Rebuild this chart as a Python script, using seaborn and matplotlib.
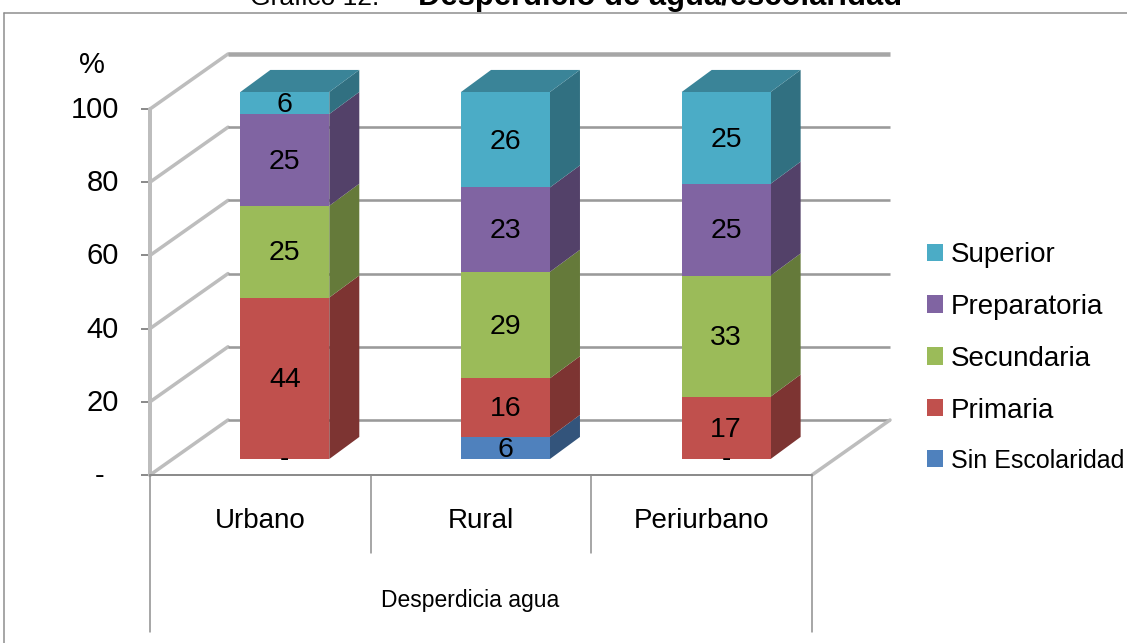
import matplotlib
matplotlib.use('Agg')
import matplotlib.pyplot as plt
import numpy as np
import pandas as pd
import seaborn as sns
from matplotlib.lines import Line2D
from matplotlib.patches import Patch, Polygon
from matplotlib.colors import to_rgb
from matplotlib.transforms import ScaledTranslation

categories = ['Urbano', 'Rural', 'Periurbano']
series_names = ['Sin Escolaridad', 'Primaria', 'Secundaria', 'Preparatoria', 'Superior']
sin_escolaridad = [0, 6, 0]
primaria = [44, 16, 17]
secundaria = [25, 29, 33]
preparatoria = [25, 23, 25]
superior = [6, 26, 25]
y_ticks = [0, 20, 40, 60, 80, 100]
y_tick_labels = ['-', '20', '40', '60', '80', '100']
colors = ['#4F81BD', '#C0504D', '#9BBB59', '#8064A2', '#4BACC6']

W, H = 1127, 643
GRAY = '#a6a6a6'
LINE = '#8c8c8c'

sns.set_theme(style='white')
plt.rcParams['font.family'] = ['Liberation Sans', 'DejaVu Sans']


def px(p):
    # pixels to points at dpi 100
    return p * 0.72


def shade(c, f):
    return tuple(v * f for v in to_rgb(c))


fig = plt.figure(figsize=(W / 100, H / 100), dpi=100, facecolor='white')

# front plane of the chart: 150-812 px wide, y=0 at 475 px, y=100 at 109 px
ax = fig.add_axes([150 / W, (H - 475) / H, 662 / W, 366 / H])
ax.patch.set_alpha(0)
ax.set_xlim(-0.5, 2.5)
ax.set_ylim(0, 100)
cat_px = 662 / 3
val_px = 3.66

# walls and floor behind the bars
wall_dx = 78 / cat_px
wall_dy = 55 / val_px
for v in y_ticks:
    lw = 4.5 if v == 100 else 2.6
    ax.plot([-0.5, -0.5 + wall_dx], [v, v + wall_dy], color='#bdbdbd', lw=px(3.5), clip_on=False, zorder=1,
            solid_capstyle='round')
    ax.plot([-0.5 + wall_dx, 2.5 + wall_dx], [v + wall_dy, v + wall_dy], color=GRAY if v == 100 else '#9a9a9a',
            lw=px(lw), clip_on=False, zorder=1, solid_capstyle='butt')
ax.plot([2.5, 2.5 + wall_dx], [0, wall_dy], color='#bdbdbd', lw=px(3.5), clip_on=False, zorder=1)
ax.plot([-0.5, -0.5], [0, 100], color='#bdbdbd', lw=px(4), clip_on=False, zorder=1)

# multi level category axis
ax.plot([-0.5, 2.5], [0, 0], color=LINE, lw=px(2), clip_on=False, zorder=2)
low = -157 / val_px
mid = -78 / val_px
ax.plot([-0.5, -0.5], [0, low], color=LINE, lw=px(1.5), clip_on=False)
ax.plot([2.5, 2.5], [0, low], color=LINE, lw=px(1.5), clip_on=False)
for b in [0.5, 1.5]:
    ax.plot([b, b], [0, mid], color=LINE, lw=px(1.5), clip_on=False)

ax.set_yticks(y_ticks)
ax.set_yticklabels(y_tick_labels, fontsize=21, color='black')
ax.set_xticks(range(3))
ax.set_xticklabels(categories, fontsize=20, color='black')
ax.tick_params(axis='x', length=0, pad=24)
ax.tick_params(axis='y', length=px(9), width=px(2), color=LINE, pad=px(22), left=True)
ax.set_xlabel('Desperdicia agua', fontsize=16.5, color='black', labelpad=39, x=(470 - 150) / 662)
sns.despine(ax=ax, left=True, bottom=True)
ax.text(-0.5 - 45 / cat_px, 112, '%', fontsize=21, color='black', ha='right', va='center', clip_on=False)

# tick labels sit a little higher, the dash is further left
for lbl in ax.get_yticklabels():
    shift = -15 if lbl.get_text() == '-' else 0
    lbl.set_transform(lbl.get_transform() + ScaledTranslation(shift / 100, 2 / 100, fig.dpi_scale_trans))

# bars sit on the floor, shifted into the depth of the chart
ax_bars = fig.add_axes([(150 + 24.5) / W, (H - 459) / H, 662 / W, 367 / H])
ax_bars.patch.set_alpha(0)
dx = 30 / cat_px
dy = 22 / val_px

values = [sin_escolaridad, primaria, secundaria, preparatoria, superior]
bottoms = np.zeros(3)
for name, vals, col in zip(series_names, values, colors):
    df = pd.DataFrame({'zona': categories, 'pct': vals})
    sns.barplot(data=df, x='zona', y='pct', order=categories, color=col, saturation=1, width=0.403,
                bottom=bottoms, errorbar=None, ax=ax_bars, linewidth=0, clip_on=False, zorder=3)
    for bar, v, b in zip(ax_bars.containers[-1], vals, bottoms):
        x0 = bar.get_x()
        x1 = x0 + bar.get_width()
        t = b + v
        if v > 0:
            side = [(x1, b), (x1 + dx, b + dy), (x1 + dx, t + dy), (x1, t)]
            ax_bars.add_patch(Polygon(side, closed=True, fc=shade(col, 0.65), ec='none', clip_on=False, zorder=2))
        if name == 'Superior':
            top = [(x0, t), (x0 + dx, t + dy), (x1 + dx, t + dy), (x1, t)]
            ax_bars.add_patch(Polygon(top, closed=True, fc=shade(col, 0.77), ec='none', clip_on=False, zorder=2))
        if v > 0:
            ax_bars.text((x0 + x1) / 2, b + v / 2 - 0.5, str(v), ha='center', va='center', fontsize=20.5,
                         color='black', zorder=5, clip_on=False)
        elif name == 'Sin Escolaridad':
            ax_bars.text((x0 + x1) / 2, 0, '-', ha='center', va='center', fontsize=20, color='black',
                         zorder=5, clip_on=False)
    bottoms = bottoms + np.array(vals)

ax_bars.set_xlim(-0.5, 2.5)
ax_bars.set_ylim(0, 100)
ax_bars.axis('off')

# legend, top entry is the last series
handles = [Patch(fc=c, ec='none') for c in colors[::-1]]
leg = fig.legend(handles, series_names[::-1], loc='upper left', bbox_to_anchor=(927 / W, 1 - 242 / H),
                 frameon=False, fontsize=20, labelcolor='black', handlelength=0.58, handleheight=0.58,
                 handletextpad=0.28, labelspacing=0.93, borderpad=0, borderaxespad=0)
# the reference squeezes this label against the right edge
leg.get_texts()[-1].set_fontsize(18)

# outer frame, the picture crops its right and bottom edges
fig.add_artist(Line2D([4 / W, 4 / W], [0, 1 - 13 / H], color=LINE, lw=px(1.5)))
fig.add_artist(Line2D([4 / W, 1], [1 - 13 / H, 1 - 13 / H], color=LINE, lw=px(1.5)))

# title is cut by the top edge of the picture
fig.text(250 / W, 1 - 5 / H, 'Gráfico 12.', fontsize=19, color='black', va='baseline', ha='left')
fig.text(418 / W, 1 - 5 / H, 'Desperdicio de agua/escolaridad', fontsize=22.3, fontweight='bold', color='black',
         va='baseline', ha='left')

fig.savefig('out.png', dpi=100)
